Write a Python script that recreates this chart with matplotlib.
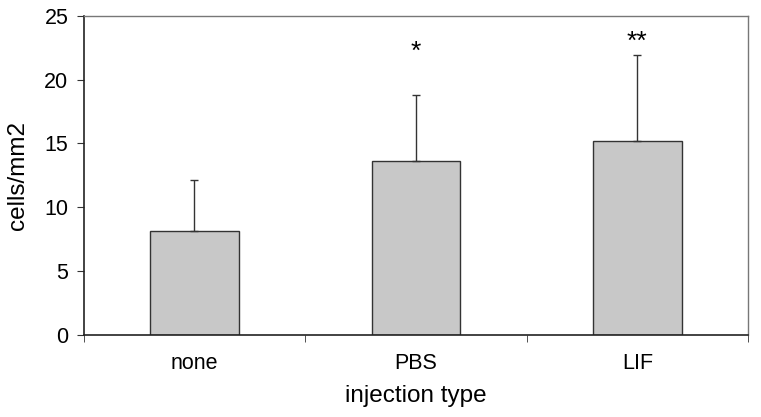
import matplotlib.pyplot as plt
import numpy as np

plt.rcParams['font.family'] = ['Liberation Sans', 'DejaVu Sans']

categories = ['none', 'PBS', 'LIF']
means = [8.1, 13.6, 15.2]
err_upper = [4.0, 5.2, 6.7]
stars = ['', '*', '**']
star_y = [0, 22.2, 23.0]

fig = plt.figure(figsize=(7.61, 4.17), dpi=100)
ax = fig.add_axes([0.110, 0.197, 0.873, 0.765])

x = np.arange(len(categories))
ax.bar(x, means, width=0.4, color='#c8c8c8', edgecolor='#333333', linewidth=1.0)
ax.errorbar(x, means, yerr=[np.zeros(len(means)), err_upper], fmt='none',
            ecolor='#333333', elinewidth=1.0, capsize=3, capthick=1.0)

for xi, s, sy in zip(x, stars, star_y):
    if s:
        ax.text(xi, sy, s, ha='center', va='center', fontsize=19)

ax.set_xlim(-0.5, 2.5)
ax.set_ylim(0, 25)
ax.set_yticks([0, 5, 10, 15, 20, 25])
ax.set_xticks(x)
ax.set_xticklabels(categories, fontsize=15.5)
ax.tick_params(axis='x', length=0, pad=13)
ax.set_xticks([-0.5, 0.5, 1.5, 2.5], minor=True)
ax.tick_params(axis='x', which='minor', length=5, direction='out', color='#333333')
ax.tick_params(axis='y', labelsize=15.5, length=5, pad=6, direction='out', color='#333333')

ax.set_ylabel('cells/mm2', fontsize=17.5, labelpad=11)
ax.set_xlabel('injection type', fontsize=17.5, labelpad=8)

for side in ['left', 'bottom']:
    ax.spines[side].set_color('#222222')
    ax.spines[side].set_linewidth(1.2)
for side in ['top', 'right']:
    ax.spines[side].set_color('#777777')
    ax.spines[side].set_linewidth(1.0)

plt.savefig('out.png', dpi=100)
